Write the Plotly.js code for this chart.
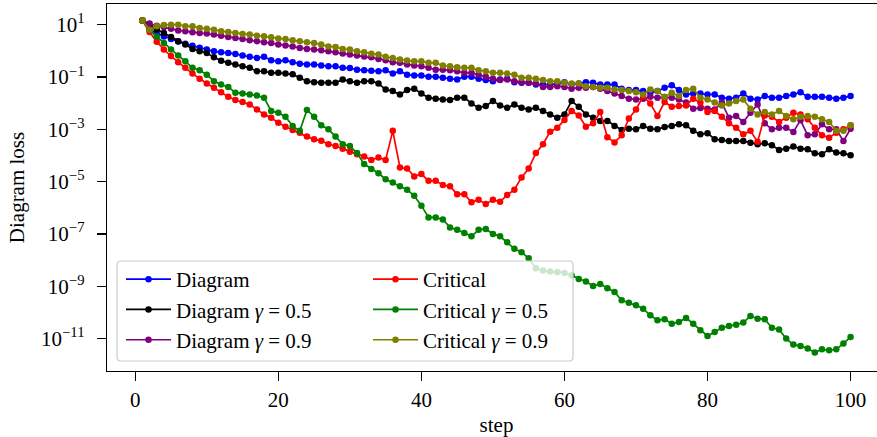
<!DOCTYPE html>
<html><head><meta charset="utf-8">
<script src="https://cdn.plot.ly/plotly-3.0.1.min.js"></script>
<style>html,body{margin:0;padding:0;overflow:hidden;background:#fff}</style>
</head><body><div id="chart"></div>
<script>
const steps = [1,2,3,4,5,6,7,8,9,10,11,12,13,14,15,16,17,18,19,20,21,22,23,24,25,26,27,28,29,30,31,32,33,34,35,36,37,38,39,40,41,42,43,44,45,46,47,48,49,50,51,52,53,54,55,56,57,58,59,60,61,62,63,64,65,66,67,68,69,70,71,72,73,74,75,76,77,78,79,80,81,82,83,84,85,86,87,88,89,90,91,92,93,94,95,96,97,98,99,100];

// values, stored as log10(loss)
const diagramLog10 = [1.16,0.82,0.66,0.55,0.45,0.36,0.27,0.19,0.12,0.05,
 -0.02,-0.05,-0.08,-0.12,-0.18,-0.23,-0.27,-0.23,-0.36,-0.40,
 -0.36,-0.44,-0.49,-0.52,-0.52,-0.56,-0.59,-0.59,-0.65,-0.66,
 -0.72,-0.74,-0.76,-0.78,-0.74,-0.87,-0.78,-0.91,-0.94,-0.94,
 -0.99,-0.99,-1.03,-1.07,-1.10,-0.99,-0.99,-1.07,-1.12,-1.16,
 -1.10,-1.07,-1.20,-1.22,-1.22,-1.29,-1.29,-1.29,-1.25,-1.20,
 -1.29,-1.25,-1.20,-1.22,-1.29,-1.29,-1.29,-1.45,-1.50,-1.50,
 -1.54,-1.60,-1.54,-1.41,-1.32,-1.50,-1.67,-1.63,-1.63,-1.67,
 -1.67,-1.79,-1.83,-1.79,-1.63,-1.83,-1.86,-1.73,-1.79,-1.79,
 -1.73,-1.67,-1.58,-1.76,-1.76,-1.76,-1.79,-1.83,-1.79,-1.73];

const diagramG05Log10 = [1.16,0.95,0.82,0.68,0.53,0.37,0.24,0.07,-0.02,-0.08,
 -0.25,-0.38,-0.46,-0.52,-0.59,-0.65,-0.78,-0.78,-0.84,-0.84,
 -0.87,-0.90,-1.03,-1.16,-1.20,-1.22,-1.22,-1.22,-1.10,-1.16,
 -1.22,-1.16,-1.16,-1.25,-1.48,-1.54,-1.67,-1.50,-1.45,-1.63,
 -1.79,-1.83,-1.86,-1.88,-1.79,-1.79,-2.01,-2.18,-2.11,-1.92,
 -2.09,-2.18,-2.05,-2.18,-2.24,-2.18,-2.30,-2.43,-2.56,-2.43,
 -1.92,-2.14,-2.43,-2.56,-2.68,-2.68,-2.87,-3.03,-2.98,-3.00,
 -2.87,-2.98,-3.00,-2.91,-2.87,-2.81,-2.85,-3.06,-3.19,-3.15,
 -3.38,-3.41,-3.45,-3.45,-3.45,-3.51,-3.57,-3.53,-3.61,-3.79,
 -3.74,-3.66,-3.74,-3.76,-3.92,-3.95,-3.76,-3.89,-3.92,-3.99];

const diagramG09Log10 = [1.16,1.04,0.96,0.91,0.84,0.78,0.75,0.71,0.68,0.66,
 0.62,0.58,0.53,0.49,0.45,0.40,0.37,0.33,0.30,0.24,
 0.20,0.17,0.11,0.07,0.05,0.02,-0.02,-0.05,-0.10,-0.14,
 -0.18,-0.22,-0.25,-0.31,-0.36,-0.44,-0.46,-0.52,-0.56,-0.59,
 -0.65,-0.72,-0.72,-0.74,-0.78,-0.84,-0.84,-0.91,-0.99,-1.07,
 -1.12,-1.10,-1.16,-1.20,-1.22,-1.25,-1.38,-1.38,-1.35,-1.38,
 -1.45,-1.41,-1.41,-1.38,-1.45,-1.54,-1.63,-1.73,-1.83,-1.86,
 -1.83,-1.76,-1.79,-1.79,-1.79,-1.86,-1.98,-2.21,-2.19,-2.21,
 -2.24,-1.98,-2.56,-2.49,-2.72,-2.37,-2.05,-2.77,-3.00,-2.94,
 -2.94,-3.10,-2.65,-3.23,-3.19,-2.81,-3.00,-3.00,-3.45,-2.98];

const criticalLog10 = [1.16,0.72,0.35,0.05,-0.20,-0.44,-0.65,-0.87,-1.07,-1.25,
 -1.41,-1.58,-1.76,-1.88,-1.96,-2.05,-2.24,-2.43,-2.56,-2.75,
 -2.90,-3.03,-3.13,-3.28,-3.38,-3.44,-3.57,-3.64,-3.74,-3.86,
 -3.95,-4.04,-4.17,-4.08,-4.17,-3.06,-4.46,-4.50,-4.80,-4.71,
 -4.97,-4.97,-5.13,-5.18,-5.48,-5.48,-5.79,-5.69,-5.86,-5.69,
 -5.77,-5.51,-5.31,-4.84,-4.50,-3.91,-3.57,-3.09,-2.94,-2.64,
 -2.30,-2.47,-2.90,-2.77,-2.34,-3.30,-3.50,-3.23,-2.59,-2.24,
 -1.73,-2.01,-2.49,-1.96,-2.14,-2.11,-2.09,-1.83,-1.98,-2.34,
 -2.30,-2.52,-2.77,-2.94,-3.19,-3.06,-3.48,-2.47,-2.52,-2.72,
 -2.56,-2.37,-2.43,-2.62,-2.94,-3.23,-3.32,-3.13,-3.00,-2.85];

const criticalG05Log10 = [1.16,0.80,0.55,0.30,0.05,-0.18,-0.40,-0.65,-0.74,-0.91,
 -1.16,-1.29,-1.38,-1.60,-1.63,-1.67,-1.71,-1.79,-2.30,-2.37,
 -2.52,-2.87,-3.06,-2.26,-2.52,-2.85,-3.00,-3.28,-3.57,-3.64,
 -3.91,-4.33,-4.52,-4.68,-4.91,-5.03,-5.18,-5.31,-5.54,-5.92,
 -6.37,-6.37,-6.45,-6.75,-6.84,-6.96,-7.09,-6.84,-6.81,-7.00,
 -7.09,-7.32,-7.57,-7.70,-7.93,-8.31,-8.40,-8.44,-8.46,-8.49,
 -8.59,-8.72,-8.82,-8.99,-8.91,-9.08,-9.22,-9.54,-9.63,-9.73,
 -9.86,-10.11,-10.30,-10.26,-10.43,-10.37,-10.21,-10.43,-10.68,-10.90,
 -10.75,-10.59,-10.52,-10.47,-10.39,-10.14,-10.24,-10.26,-10.59,-10.65,
 -11.00,-11.23,-11.28,-11.38,-11.53,-11.41,-11.45,-11.41,-11.19,-10.94];

const criticalG09Log10 = [1.16,0.81,0.94,0.99,1.00,1.00,0.94,0.94,0.87,0.84,
 0.81,0.75,0.72,0.68,0.64,0.62,0.58,0.56,0.52,0.47,
 0.45,0.40,0.37,0.33,0.30,0.24,0.17,0.15,0.07,0.05,
 -0.02,-0.05,-0.11,-0.14,-0.23,-0.27,-0.33,-0.37,-0.40,-0.40,
 -0.46,-0.46,-0.56,-0.59,-0.63,-0.65,-0.65,-0.74,-0.78,-0.84,
 -0.84,-0.87,-0.91,-1.03,-1.03,-1.07,-1.12,-1.16,-1.16,-1.22,
 -1.25,-1.25,-1.35,-1.38,-1.41,-1.41,-1.48,-1.50,-1.54,-1.58,
 -1.67,-1.48,-1.54,-1.76,-1.60,-1.73,-1.50,-1.45,-1.79,-1.86,
 -1.98,-2.09,-2.01,-1.92,-1.86,-2.21,-2.43,-2.34,-2.43,-2.30,
 -2.49,-2.62,-2.52,-2.49,-2.52,-2.62,-2.72,-3.06,-3.06,-2.85];

const seriesNames = ['Diagram','Diagram <i>γ</i> = 0.5','Diagram <i>γ</i> = 0.9',
                     'Critical','Critical <i>γ</i> = 0.5','Critical <i>γ</i> = 0.9'];
const seriesData = [diagramLog10, diagramG05Log10, diagramG09Log10,
                    criticalLog10, criticalG05Log10, criticalG09Log10];
const seriesColors = ['#0000ff','#000000','#800080','#ff0000','#008000','#808000'];
const seriesLegend = ['legend','legend','legend','legend2','legend2','legend2'];

const xTickVals = [0,20,40,60,80,100];
const yTickVals = [1e1,1e-1,1e-3,1e-5,1e-7,1e-9,1e-11];
const yTickText = ['10<sup>1</sup>','10<sup>−1</sup>','10<sup>−3</sup>','10<sup>−5</sup>',
                   '10<sup>−7</sup>','10<sup>−9</sup>','10<sup>−11</sup>'];

const FONT = "'Liberation Serif', 'Times New Roman', serif";
const FS = 21;
const W = 890, H = 437, ML = 107, MR = 4, MT = 4, MB = 66;
const PW = W - ML - MR, PH = H - MT - MB;
const px2x = p => (p - ML) / PW;
const px2y = p => (H - MB - p) / PH;

const traces = seriesData.map((d, i) => ({
  x: steps,
  y: d.map(v => Math.pow(10, v)),
  name: seriesNames[i],
  type: 'scatter',
  mode: 'lines+markers',
  line: {color: seriesColors[i], width: 1.7},
  marker: {color: seriesColors[i], size: 6.5},
  legend: seriesLegend[i]
}));

// legend frame
const bx0 = px2x(117), bx1 = px2x(573), by0 = px2y(361), by1 = px2y(261);
const rx = 4 / PW, ry = 4 / PH;
const framePath = `M${bx0+rx},${by0} L${bx1-rx},${by0} Q${bx1},${by0} ${bx1},${by0+ry} ` +
  `L${bx1},${by1-ry} Q${bx1},${by1} ${bx1-rx},${by1} L${bx0+rx},${by1} ` +
  `Q${bx0},${by1} ${bx0},${by1-ry} L${bx0},${by0+ry} Q${bx0},${by0} ${bx0+rx},${by0} Z`;

const legendCommon = {
  xanchor: 'left', yanchor: 'top', bgcolor: 'rgba(0,0,0,0)', borderwidth: 0,
  font: {family: FONT, size: FS, color: '#000'}, itemwidth: 45, tracegroupgap: 0,
  orientation: 'v'
};

const axisCommon = {
  showline: true, linecolor: '#000', linewidth: 1.3, mirror: true,
  ticks: 'outside', ticklen: 9, tickwidth: 1.3, tickcolor: '#000',
  showgrid: false, zeroline: false,
  tickfont: {family: FONT, size: FS, color: '#000'}
};

const layout = {
  width: W, height: H,
  margin: {l: ML, r: MR, t: MT, b: MB},
  paper_bgcolor: '#fff', plot_bgcolor: '#fff',
  showlegend: true,
  xaxis: Object.assign({}, axisCommon, {
    range: [-3.95, 104.95], tickmode: 'array', tickvals: xTickVals,
    ticklabelstandoff: 0,
    title: {text: 'step', font: {family: FONT, size: FS, color: '#000'}, standoff: 14}
  }),
  yaxis: Object.assign({}, axisCommon, {
    type: 'log', range: [-12.24, 1.79], tickmode: 'array',
    tickvals: yTickVals, ticktext: yTickText, ticklabelstandoff: 8,
    title: {text: 'Diagram loss', font: {family: FONT, size: FS, color: '#000'}, standoff: 10}
  }),
  legend: Object.assign({}, legendCommon, {x: px2x(121), y: px2y(259)}),
  legend2: Object.assign({}, legendCommon, {x: px2x(368), y: px2y(259)}),
  shapes: [{
    type: 'path', xref: 'paper', yref: 'paper', path: framePath,
    fillcolor: 'rgba(255,255,255,0.8)', line: {color: '#cccccc', width: 1.2}, layer: 'above'
  }]
};

Plotly.newPlot('chart', traces, layout, {staticPlot: true, displayModeBar: false});
</script></body></html>
